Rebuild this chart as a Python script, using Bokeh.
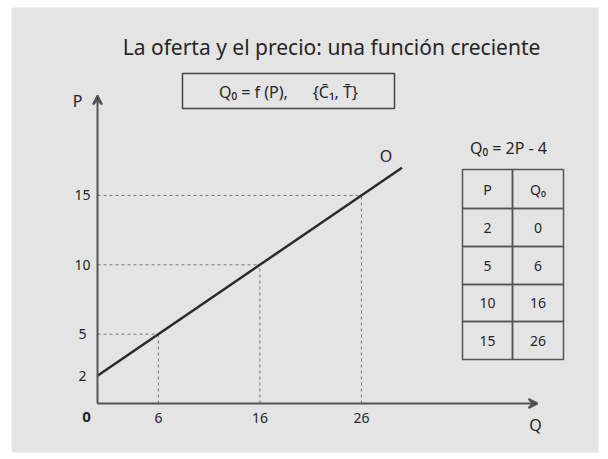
from bokeh.plotting import figure
from bokeh.models import Range1d, Arrow, VeeHead
from bokeh.core.properties import value
from bokeh.embed import file_html
from bokeh.resources import INLINE

# ---- content -------------------------------------------------------------
title_text = "La oferta y el precio: una función creciente"
NB = "\u00a0"
function_text = "Q\u2080 = f (P)," + NB * 6 + "{C\u0304\u2081, T\u0304}"
equation_text = "Q\u2080 = 2P - 4"
table_header = ["P", "Q\u2080"]
price = [2, 5, 10, 15]          # P
quantity = [0, 6, 16, 26]       # Q0 = 2P - 4
curve_quantity = [0, 30]        # supply line end points (Q)
curve_price = [2, 17]           # supply line end points (P)
curve_label = "O"
axis_x_label = "Q"
axis_y_label = "P"
origin_label = "0"

# ---- page geometry ---------------------------------------------------------
W, H = 608, 459
ML, MR, MT, MB = 11, 10, 7, 7
OX, OY = 97, 403            # pixel position of the origin
SX, SY = 10.15, 13.87       # pixels per unit of Q and of P

x0 = -(OX - ML) / SX
x1 = x0 + (W - ML - MR) / SX
y1 = (OY - MT) / SY
y0 = y1 - (H - MT - MB) / SY


def qx(px):
    return (px - OX) / SX


def py(pix):
    return (OY - pix) / SY


FONT = value("Noto Sans")
INK = "#262626"

p = figure(width=W, height=H, output_backend="svg", toolbar_location=None,
           x_range=Range1d(x0, x1), y_range=Range1d(y0, y1),
           min_border_left=ML, min_border_right=MR,
           min_border_top=MT, min_border_bottom=MB)
p.axis.visible = False
p.grid.visible = False
p.outline_line_color = None
p.background_fill_color = "#e4e4e4"
p.border_fill_color = "white"

# title and the boxed functional form
p.text(x=[qx(331)], y=[py(46)], text=[title_text], text_font=FONT,
       text_font_size="21px", text_color=INK, text_align="center",
       text_baseline="middle")
p.quad(left=[qx(182)], right=[qx(394)], top=[py(73)], bottom=[py(108)],
       fill_color=None, line_color="#444444", line_width=1.5)
p.text(x=[qx(288)], y=[py(91)], text=[function_text], text_font=FONT,
       text_font_size="16px", text_color=INK, text_align="center",
       text_baseline="middle")

# dashed guides from each tabulated point to the axes
p.segment(x0=[0] * len(price), y0=price, x1=quantity, y1=price,
          line_color="#777777", line_width=1, line_dash="3 3")
p.segment(x0=quantity, y0=[0] * len(price), x1=quantity, y1=price,
          line_color="#777777", line_width=1, line_dash="3 3")

# supply line
p.line(curve_quantity, curve_price, line_color="#2b2b2b", line_width=2.5)
p.text(x=[curve_quantity[-1]], y=[curve_price[-1]], text=[curve_label],
       text_font=FONT, text_font_size="16px", text_color=INK,
       text_align="center", text_baseline="middle",
       x_offset=-16, y_offset=-12)

# axes with arrow heads
axis_color = "#555555"
p.add_layout(Arrow(x_start=0, y_start=0, x_end=0, y_end=py(95),
                   line_color=axis_color, line_width=2,
                   end=VeeHead(size=9, line_color=axis_color, line_width=2)))
p.add_layout(Arrow(x_start=0, y_start=0, x_end=qx(537), y_end=0,
                   line_color=axis_color, line_width=2,
                   end=VeeHead(size=9, line_color=axis_color, line_width=2)))

p.text(x=[0], y=[py(95)], text=[axis_y_label], text_font=FONT,
       text_font_size="16px", text_color=INK, text_align="center",
       text_baseline="middle", x_offset=-20, y_offset=5)
p.text(x=[qx(537)], y=[0], text=[axis_x_label], text_font=FONT,
       text_font_size="16px", text_color=INK, text_align="center",
       text_baseline="middle", x_offset=-2, y_offset=21)
p.text(x=[0], y=[0], text=[origin_label], text_font=FONT,
       text_font_size="15px", text_color=INK, text_align="center",
       text_baseline="middle", x_offset=-11, y_offset=13, text_font_style="bold")

# tick labels
p.text(x=quantity[1:], y=[0] * (len(quantity) - 1),
       text=[str(q) for q in quantity[1:]], text_font=FONT,
       text_font_size="14px", text_color=INK, text_align="center",
       text_baseline="middle", y_offset=14)
p.text(x=[0] * len(price), y=price, text=[str(v) for v in price],
       text_font=FONT, text_font_size="14px", text_color=INK,
       text_align="center", text_baseline="middle", x_offset=-15)

# table of values
col_edges = [462, 512, 563]
row_edges = [169, 208, 246, 284, 321, 359]
lefts, rights, tops, bottoms = [], [], [], []
for r in range(len(row_edges) - 1):
    for c in range(len(col_edges) - 1):
        lefts.append(qx(col_edges[c]))
        rights.append(qx(col_edges[c + 1]))
        tops.append(py(row_edges[r]))
        bottoms.append(py(row_edges[r + 1]))
p.quad(left=lefts, right=rights, top=tops, bottom=bottoms,
       fill_color=None, line_color="#555555", line_width=1.5)

cell_text, cell_x, cell_y = [], [], []
rows = [table_header] + [[str(a), str(b)] for a, b in zip(price, quantity)]
for r, row in enumerate(rows):
    for c, t in enumerate(row):
        cell_text.append(t)
        cell_x.append(qx((col_edges[c] + col_edges[c + 1]) / 2))
        cell_y.append(py((row_edges[r] + row_edges[r + 1]) / 2))
p.text(x=cell_x, y=cell_y, text=cell_text, text_font=FONT,
       text_font_size="14px", text_color=INK, text_align="center",
       text_baseline="middle")

p.text(x=[qx(508)], y=[py(147)], text=[equation_text], text_font=FONT,
       text_font_size="16px", text_color=INK, text_align="center",
       text_baseline="middle")

open("out.html", "w").write(file_html(p, INLINE))
